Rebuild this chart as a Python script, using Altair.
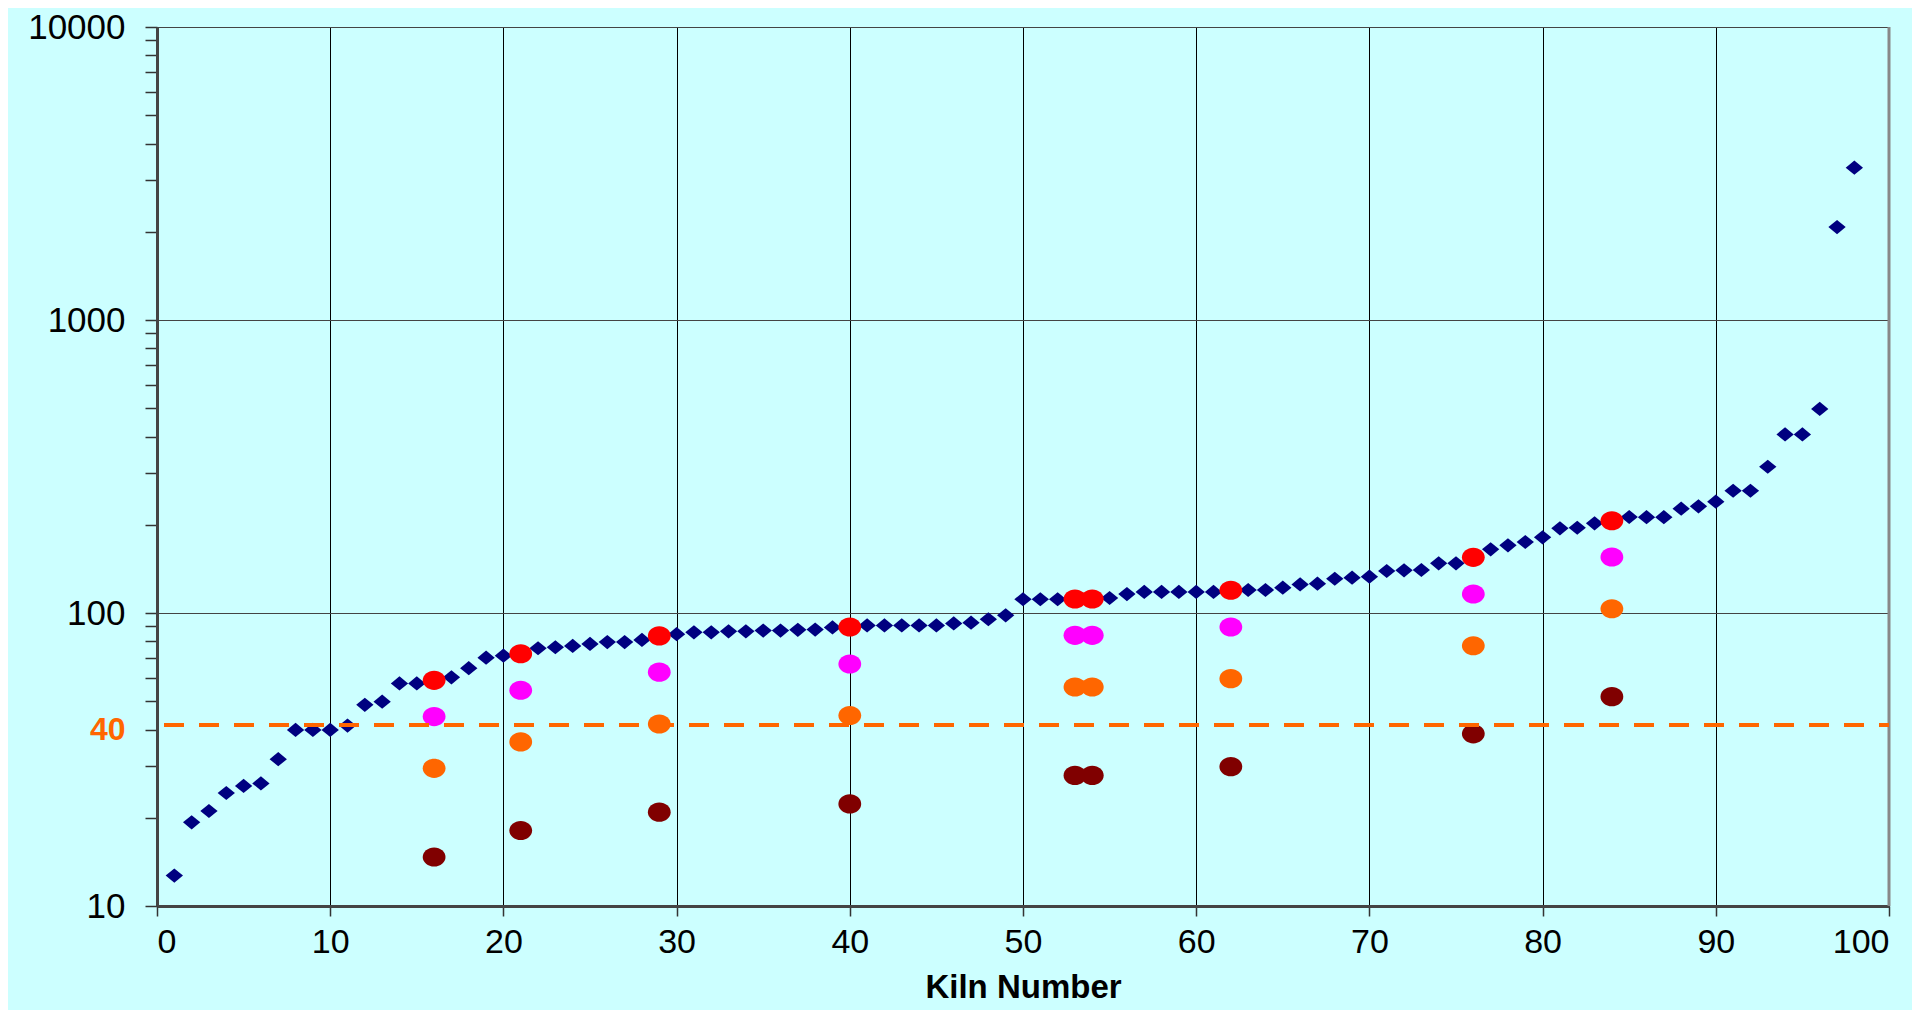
import altair as alt
import pandas as pd

# ---- data ----
kilns = list(range(1, 99))
kiln_values = [
    12.7, 19.3, 21.1, 24.3, 25.7, 26.2, 31.7, 39.9, 39.9, 39.9,
    41.3, 48.6, 49.8, 57.5, 57.5, 58.9, 60.3, 64.8, 70.4, 71.5,
    72.6, 75.8, 76.4, 77.2, 78.4, 79.6, 79.6, 80.9, 83.5, 84.7,
    85.9, 85.9, 86.6, 86.6, 87.1, 87.1, 87.6, 87.8, 89.3, 89.6,
    90.7, 90.7, 90.7, 90.7, 90.7, 92.1, 92.7, 95.2, 98.2, 111.4,
    111.4, 111.4, 111.6, 111.6, 112.5, 116.0, 118.0, 118.0, 118.0, 118.0,
    118.0, 119.6, 119.8, 119.8, 122.0, 125.2, 125.9, 130.9, 132.0, 133.0,
    139.1, 139.9, 140.2, 147.8, 147.8, 154.9, 165.0, 170.2, 174.7, 181.3,
    194.5, 195.4, 202.4, 206.5, 212.6, 212.3, 212.3, 227.0, 231.2, 239.9,
    261.4, 261.4, 315.6, 407.0, 407.0, 497.0, 2076.0, 3311.0,
]

sampled_kilns = [16, 21, 29, 40, 53, 54, 62, 76, 84]
red_values = [58.9, 72.6, 83.5, 89.6, 111.6, 111.6, 119.6, 154.9, 206.5]
magenta_values = [44.3, 54.5, 62.8, 67.0, 83.9, 83.9, 89.6, 116.1, 155.3]
orange_values = [29.5, 36.3, 41.8, 44.7, 55.9, 55.9, 59.7, 77.3, 103.4]
darkred_values = [14.7, 18.1, 20.9, 22.3, 27.9, 27.9, 29.9, 38.7, 51.8]

series_names = ["red", "magenta", "orange", "darkred"]
series_colors = ["#FF0000", "#FF00FF", "#FF6600", "#800000"]

threshold_line = [41.5]
border_x = [100]
x_ticks = [0, 10, 20, 30, 40, 50, 60, 70, 80, 90, 100]
y_ticks = [10, 20, 30, 40, 50, 60, 70, 80, 90,
           100, 200, 300, 400, 500, 600, 700, 800, 900,
           1000, 2000, 3000, 4000, 5000, 6000, 7000, 8000, 9000, 10000]

# ---- tables ----
base_df = pd.DataFrame({"kiln": kilns, "value": kiln_values})
rows = []
for name, vals in zip(series_names, [red_values, magenta_values, orange_values, darkred_values]):
    for k, v in zip(sampled_kilns, vals):
        rows.append({"kiln": k, "value": v, "series": name})
circ_df = pd.DataFrame(rows)

W, H = 1732, 879
FONT = "Liberation Sans"

x_scale = alt.Scale(domain=[0, 100], nice=False, zero=False)
y_scale = alt.Scale(type="log", domain=[10, 10000], nice=False)

major = "datum.value==10||datum.value==100||datum.value==1000||datum.value==10000"

x_axis = alt.Axis(
    values=x_ticks, title="Kiln Number", format="d",
    grid=True, gridColor="#000000", gridWidth=1,
    tickSize=10, tickColor="#333333", tickWidth=1.5,
    domainColor="#444444", domainWidth=3,
    labelFont=FONT, labelFontSize=34, labelColor="#000000", labelPadding=9,
    titleFont=FONT, titleFontSize=33, titleFontWeight="bold", titleColor="#000000",
    titlePadding=12,
)

y_axis = alt.Axis(
    values=y_ticks, title=None, labelOverlap=False,
    labelExpr="(" + major + "||datum.value==40) ? format(datum.value,'d') : ''",
    labelColor=alt.condition("datum.value==40", alt.value("#FF6600"), alt.value("#000000")),
    labelFontWeight=alt.condition("datum.value==40", alt.value("bold"), alt.value("normal")),
    labelFontSize=alt.condition("datum.value==40", alt.value(32), alt.value(35)),
    labelFont=FONT, labelPadding=20,
    grid=True, gridColor="#444444", gridWidth=1,
    gridOpacity=alt.condition(major, alt.value(1), alt.value(0)),
    tickSize=12, tickColor="#333333", tickWidth=1.5,
    domainColor="#444444", domainWidth=3,
)

diamond = "M-1,0L0,-0.82L1,0L0,0.82Z"
ellipse = "M-1,0A1,0.84 0 1,1 1,0A1,0.84 0 1,1 -1,0Z"

diamonds = alt.Chart(base_df).mark_point(
    shape=diamond, filled=True, size=300, color="#000080", opacity=1, strokeWidth=0
).encode(
    x=alt.X("kiln:Q", scale=x_scale, axis=x_axis),
    y=alt.Y("value:Q", scale=y_scale, axis=y_axis),
)

border = alt.Chart(pd.DataFrame({"kiln": border_x})).mark_rule(
    color="#888888", strokeWidth=3
).encode(x=alt.X("kiln:Q", scale=x_scale, axis=x_axis))

circles = alt.Chart(circ_df).mark_point(
    shape=ellipse, filled=True, size=520, opacity=1, strokeWidth=0
).encode(
    x=alt.X("kiln:Q", scale=x_scale, axis=x_axis),
    y=alt.Y("value:Q", scale=y_scale, axis=y_axis),
    color=alt.Color("series:N", scale=alt.Scale(domain=series_names, range=series_colors), legend=None),
)

threshold = alt.Chart(pd.DataFrame({"value": threshold_line})).mark_rule(
    color="#FF6600", strokeWidth=4, strokeDash=[20, 15]
).encode(
    y=alt.Y("value:Q", scale=y_scale, axis=y_axis),
    x=alt.value(7), x2=alt.value(W),
)

chart = alt.layer(diamonds, border, circles, threshold).properties(
    width=W, height=H,
    autosize=alt.AutoSizeParams(type="none"),
    padding={"left": 149, "top": 19, "right": 23, "bottom": 104},
    background="#CCFFFF",
).configure_view(strokeWidth=0, fill="#CCFFFF")

chart.save("out.html", embed_options={"renderer": "svg", "actions": False})
